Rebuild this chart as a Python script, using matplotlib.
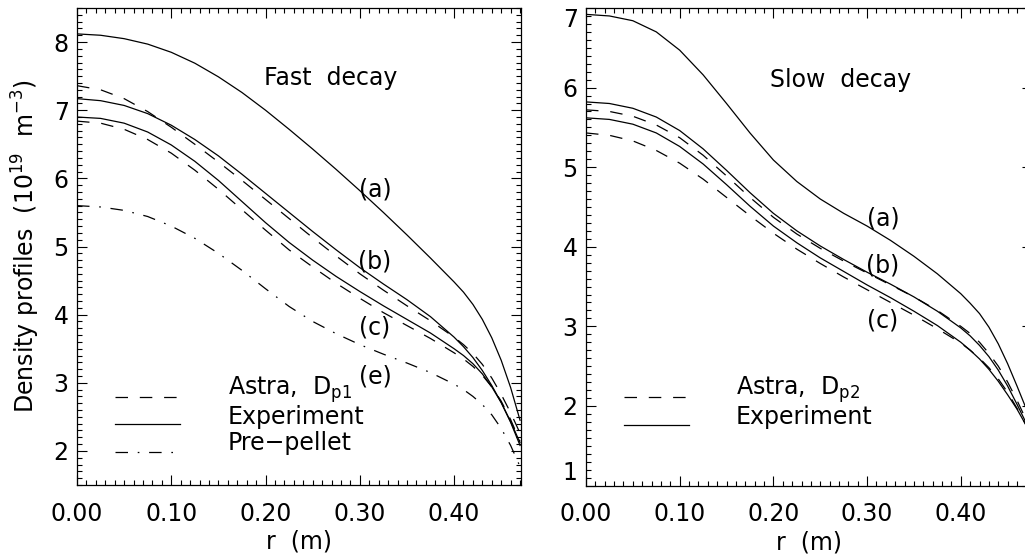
import numpy as np
import matplotlib
matplotlib.use("Agg")
import matplotlib.pyplot as plt
from matplotlib.ticker import MultipleLocator, FormatStrFormatter

plt.rcParams['font.family'] = 'DejaVu Sans'
plt.rcParams['mathtext.default'] = 'regular'
plt.rcParams['lines.scale_dashes'] = False

# radius grid (m)
r = [0.0, 0.025, 0.05, 0.075, 0.10, 0.125, 0.15, 0.175, 0.20, 0.225, 0.25, 0.275,
     0.30, 0.325, 0.35, 0.375, 0.40, 0.41, 0.42, 0.43, 0.44, 0.45, 0.46, 0.47]

# fast decay (left panel)
fast_exp_a = [8.12, 8.10, 8.05, 7.97, 7.85, 7.69, 7.49, 7.26, 7.00, 6.72, 6.43, 6.13,
              5.82, 5.50, 5.17, 4.83, 4.48, 4.33, 4.15, 3.93, 3.66, 3.33, 2.93, 2.45]
fast_exp_b = [7.17, 7.14, 7.07, 6.95, 6.78, 6.57, 6.33, 6.06, 5.78, 5.50, 5.22, 4.95,
              4.69, 4.45, 4.22, 3.97, 3.67, 3.53, 3.37, 3.18, 2.96, 2.71, 2.43, 2.12]
fast_ast_b = [7.36, 7.30, 7.17, 6.98, 6.75, 6.50, 6.24, 5.97, 5.69, 5.41, 5.13, 4.86,
              4.60, 4.36, 4.13, 3.91, 3.67, 3.56, 3.43, 3.27, 3.07, 2.83, 2.56, 2.26]
fast_exp_c = [6.90, 6.88, 6.81, 6.68, 6.49, 6.25, 5.97, 5.66, 5.35, 5.06, 4.80, 4.56,
              4.34, 4.13, 3.93, 3.73, 3.50, 3.40, 3.28, 3.13, 2.94, 2.71, 2.42, 2.08]
fast_ast_c = [6.84, 6.81, 6.72, 6.57, 6.37, 6.12, 5.84, 5.54, 5.24, 4.95, 4.70, 4.46,
              4.24, 4.03, 3.84, 3.65, 3.44, 3.35, 3.24, 3.11, 2.94, 2.73, 2.46, 2.14]
fast_pre_e = [5.60, 5.58, 5.53, 5.44, 5.30, 5.12, 4.90, 4.65, 4.38, 4.12, 3.90, 3.72,
              3.56, 3.42, 3.29, 3.15, 2.98, 2.90, 2.80, 2.68, 2.53, 2.33, 2.08, 1.77]

# slow decay (right panel)
slow_exp_a = [6.92, 6.90, 6.84, 6.70, 6.47, 6.16, 5.80, 5.43, 5.09, 4.82, 4.60, 4.42,
              4.26, 4.08, 3.88, 3.66, 3.41, 3.29, 3.16, 2.99, 2.78, 2.53, 2.25, 1.96]
slow_exp_b = [5.82, 5.80, 5.74, 5.63, 5.46, 5.23, 4.96, 4.68, 4.42, 4.20, 4.01, 3.84,
              3.68, 3.53, 3.37, 3.19, 2.98, 2.88, 2.76, 2.62, 2.45, 2.25, 2.02, 1.78]
slow_ast_b = [5.72, 5.70, 5.64, 5.53, 5.37, 5.15, 4.89, 4.62, 4.37, 4.16, 3.98, 3.82,
              3.67, 3.52, 3.37, 3.20, 3.00, 2.91, 2.80, 2.66, 2.50, 2.30, 2.07, 1.82]
slow_exp_c = [5.62, 5.60, 5.54, 5.43, 5.26, 5.04, 4.78, 4.51, 4.26, 4.05, 3.86, 3.69,
              3.52, 3.36, 3.19, 3.01, 2.80, 2.70, 2.59, 2.46, 2.31, 2.14, 1.96, 1.75]
slow_ast_c = [5.43, 5.40, 5.33, 5.21, 5.05, 4.85, 4.62, 4.39, 4.17, 3.97, 3.79, 3.62,
              3.46, 3.30, 3.14, 2.97, 2.79, 2.70, 2.60, 2.48, 2.34, 2.17, 1.97, 1.75]

FS = 17
LW = 0.9
DASH = (9, 8.5)
DASHDOT = (9, 7, 1.2, 7)

fig = plt.figure(figsize=(10.25, 5.59), dpi=100)
ax1 = fig.add_axes([77 / 1025, 74 / 559, 444 / 1025, 477 / 559])
ax2 = fig.add_axes([586 / 1025, 73.5 / 559, 446 / 1025, 477.5 / 559])


def style_axes(ax, xmax, ylim):
    ax.set_xlim(0, xmax)
    ax.set_ylim(*ylim)
    ax.xaxis.set_major_locator(MultipleLocator(0.1))
    ax.xaxis.set_minor_locator(MultipleLocator(0.01))
    ax.yaxis.set_major_locator(MultipleLocator(1))
    ax.yaxis.set_minor_locator(MultipleLocator(0.1))
    ax.xaxis.set_major_formatter(FormatStrFormatter('%.2f'))
    ax.yaxis.set_major_formatter(FormatStrFormatter('%d'))
    ax.tick_params(which='both', direction='in', top=True, right=True, width=0.8)
    ax.tick_params(which='major', length=7.2)
    ax.tick_params(which='minor', length=3.6)
    ax.tick_params(axis='x', pad=12, labelsize=FS)
    ax.tick_params(axis='y', pad=6, labelsize=FS)
    for s in ax.spines.values():
        s.set_linewidth(0.9)
    ax.set_xlabel('r  (m)', fontsize=FS, labelpad=3)


# left panel
style_axes(ax1, 0.471, (1.5, 8.5))
ax1.plot(r, fast_exp_a, color='black', lw=LW)
ax1.plot(r, fast_exp_b, color='black', lw=LW)
ax1.plot(r, fast_exp_c, color='black', lw=LW)
ax1.plot(r, fast_ast_b, color='black', lw=LW, dashes=DASH)
ax1.plot(r, fast_ast_c, color='black', lw=LW, dashes=DASH)
ax1.plot(r, fast_pre_e, color='black', lw=LW, dashes=DASHDOT)
ax1.set_ylabel('Density profiles  (10$^{19}$  m$^{-3}$)', fontsize=FS, labelpad=8)
ax1.text(0.269, 7.47, 'Fast  decay', fontsize=FS, ha='center', va='center')
for lab, yv in [('(a)', 5.84), ('(b)', 4.78), ('(c)', 3.81), ('(e)', 3.09)]:
    ax1.text(0.316, yv, lab, fontsize=FS, ha='center', va='center')

tr = ax1.transAxes
ax1.plot([0.086, 0.232], [0.184, 0.184], color='black', lw=LW, dashes=DASH, transform=tr)
ax1.plot([0.086, 0.232], [0.128, 0.128], color='black', lw=LW, transform=tr)
ax1.plot([0.086, 0.232], [0.069, 0.069], color='black', lw=LW, dashes=DASHDOT, transform=tr)
ax1.text(0.34, 0.199, 'Astra,  D$_{\\rm p1}$', fontsize=FS, va='center', transform=tr)
ax1.text(0.34, 0.143, 'Experiment', fontsize=FS, va='center', transform=tr)
ax1.text(0.34, 0.088, 'Pre\u2212pellet', fontsize=FS, va='center', transform=tr)

# right panel
style_axes(ax2, 0.476, (1, 7))
ax2.plot(r, slow_exp_a, color='black', lw=LW)
ax2.plot(r, slow_exp_b, color='black', lw=LW)
ax2.plot(r, slow_exp_c, color='black', lw=LW)
ax2.plot(r, slow_ast_b, color='black', lw=LW, dashes=DASH)
ax2.plot(r, slow_ast_c, color='black', lw=LW, dashes=DASH)
ax2.text(0.272, 6.09, 'Slow  decay', fontsize=FS, ha='center', va='center')
for lab, yv in [('(a)', 4.36), ('(b)', 3.77), ('(c)', 3.07)]:
    ax2.text(0.317, yv, lab, fontsize=FS, ha='center', va='center')

tr = ax2.transAxes
ax2.plot([0.085, 0.231], [0.185, 0.185], color='black', lw=LW, dashes=DASH, transform=tr)
ax2.plot([0.085, 0.231], [0.127, 0.127], color='black', lw=LW, transform=tr)
ax2.text(0.336, 0.200, 'Astra,  D$_{\\rm p2}$', fontsize=FS, va='center', transform=tr)
ax2.text(0.336, 0.143, 'Experiment', fontsize=FS, va='center', transform=tr)

# end labels of the right panel sit inside the axis range
fig.canvas.draw()
for t in ax2.yaxis.get_major_ticks():
    if abs(t.get_loc() - 7) < 1e-6:
        t.label1.set_va('top')
    elif abs(t.get_loc() - 1) < 1e-6:
        t.label1.set_va('bottom')

fig.savefig('out.png', dpi=100)
